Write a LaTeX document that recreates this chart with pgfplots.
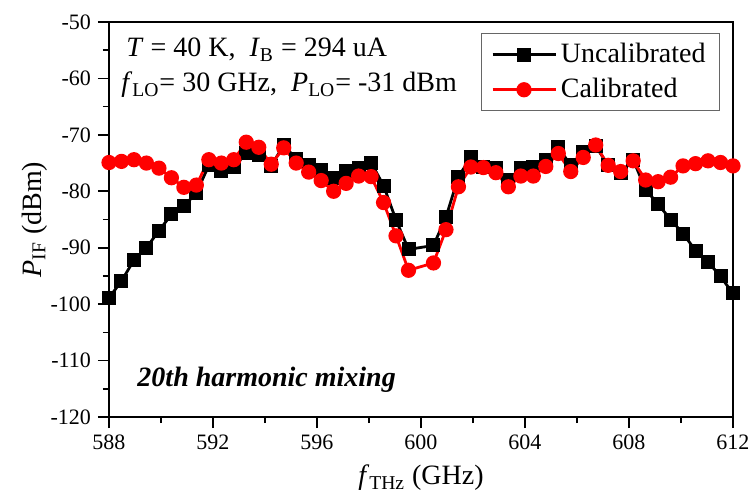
\documentclass[border=0pt]{standalone}
\usepackage{fontspec}
\setmainfont{Liberation Serif}
\usepackage{pgfplots}
\pgfplotsset{compat=1.18}
\usepackage{pgfplotstable}

\pgfplotstableread{
f P
588.00 -98.9
588.48 -95.9
588.96 -92.2
589.44 -90.0
589.92 -87.0
590.40 -84.1
590.88 -82.6
591.36 -80.3
591.84 -75.4
592.32 -76.4
592.80 -75.7
593.28 -73.3
593.76 -73.5
594.24 -75.5
594.72 -71.8
595.20 -74.3
595.68 -75.4
596.16 -76.2
596.64 -77.7
597.12 -76.4
597.60 -75.9
598.08 -74.9
598.56 -79.0
599.04 -85.1
599.52 -90.3
600.48 -89.6
600.96 -84.6
601.44 -77.4
601.92 -74.0
602.40 -75.7
602.88 -75.9
603.36 -78.0
603.84 -75.9
604.32 -75.7
604.80 -74.5
605.28 -72.2
605.76 -75.4
606.24 -73.0
606.72 -72.0
607.20 -75.4
607.68 -76.8
608.16 -74.4
608.64 -79.7
609.12 -82.3
609.60 -85.0
610.08 -87.5
610.56 -90.5
611.04 -92.5
611.52 -95.1
612.00 -98.1
}\uncal

\pgfplotstableread{
f P
588.00 -74.9
588.48 -74.7
588.96 -74.4
589.44 -75.0
589.92 -75.9
590.40 -77.6
590.88 -79.3
591.36 -78.9
591.84 -74.4
592.32 -75.0
592.80 -74.4
593.28 -71.3
593.76 -72.2
594.24 -75.2
594.72 -72.3
595.20 -75.0
595.68 -76.6
596.16 -78.1
596.64 -80.0
597.12 -78.6
597.60 -77.3
598.08 -77.4
598.56 -82.0
599.04 -87.9
599.52 -94.0
600.48 -92.7
600.96 -86.8
601.44 -79.2
601.92 -75.7
602.40 -75.8
602.88 -76.7
603.36 -79.2
603.84 -77.3
604.32 -77.3
604.80 -75.6
605.28 -73.3
605.76 -76.5
606.24 -74.0
606.72 -71.8
607.20 -75.4
607.68 -76.5
608.16 -74.6
608.64 -78.0
609.12 -78.3
609.60 -77.5
610.08 -75.5
610.56 -75.1
611.04 -74.6
611.52 -74.9
612.00 -75.5
}\cal

\begin{document}
\begin{tikzpicture}
\useasboundingbox (-54.5pt,-40.5pt) rectangle (320.5pt,208.5pt);
\begin{axis}[
  at={(0,0)}, anchor=south west,
  scale only axis, width=312pt, height=197.5pt,
  xmin=588, xmax=612, ymin=-120, ymax=-50,
  xtick={588,592,...,612}, ytick={-120,-110,...,-50},
  minor x tick num=1, minor y tick num=1,
  tick align=outside, xtick pos=bottom, ytick pos=left,
  major tick length=5.5pt, minor tick length=3pt,
  every tick/.style={black, line width=0.8pt},
  axis line style={line width=1pt},
  tick label style={font=\fontsize{11}{13}\selectfont},
  /pgf/number format/assume math mode=true,
  /pgf/number format/set thousands separator={},
  xlabel={\textit{f}\textsubscript{THz} (GHz)},
  ylabel={\textit{P}\textsubscript{IF} (dBm)},
  label style={font=\fontsize{14}{17}\selectfont},
  xlabel style={at={(axis description cs:0.5,-0.17215)}, anchor=base},
  ylabel style={at={(axis description cs:-0.10897,0.5)}, anchor=base},
  legend cell align=left,
  legend style={at={(axis description cs:0.97917,0.97215)}, anchor=north east,
    draw=black!60, line width=0.5pt, font=\fontsize{14}{17}\selectfont,
    inner xsep=5pt, inner ysep=3pt, row sep=2.3pt},
  legend image code/.code={
    \draw[mark repeat=2,mark phase=2,#1] plot coordinates {(0pt,0pt) (15.75pt,0pt) (31.5pt,0pt)};
  },
]
\addplot[black, line width=1.4pt, mark=square*, mark size=2.8pt, mark options={solid}] table[x=f,y=P] {\uncal};
\addlegendentry{Uncalibrated}
\addplot[red, line width=1.4pt, mark=*, mark size=3.1pt, mark options={solid}] table[x=f,y=P] {\cal};
\addlegendentry{Calibrated}
\node[anchor=base west, inner sep=0pt, font=\fontsize{14}{17}\selectfont] at (axis cs:588.65,-56.2) {\textit{T} = 40 K,\ \ \textit{I}\textsubscript{B} = 294 uA};
\node[anchor=base west, inner sep=0pt, font=\fontsize{14}{17}\selectfont] at (axis cs:588.46,-62.4) {\textit{f}\textsubscript{LO}= 30 GHz,\ \ \textit{P}\textsubscript{LO}= -31 dBm};
\node[anchor=base west, inner sep=0pt, font=\fontsize{14}{17}\selectfont\bfseries\itshape] at (axis cs:589.08,-114.6) {20th harmonic mixing};
\end{axis}
\end{tikzpicture}
\end{document}
